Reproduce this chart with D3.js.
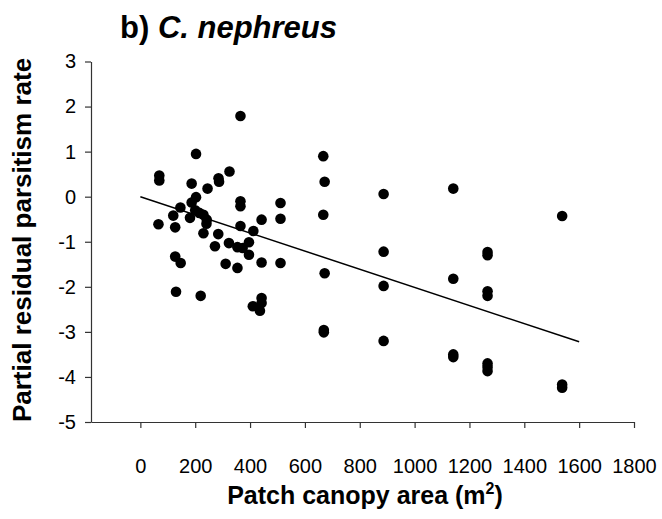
<!DOCTYPE html>
<html>
<head>
<meta charset="utf-8">
<script src="https://cdn.jsdelivr.net/npm/d3@7"></script>
<style>
body { margin: 0; background: #fff; }
svg { font-family: "Liberation Sans", Arial, sans-serif; }
</style>
</head>
<body>
<div id="chart"></div>
<script>
// patch canopy area (m2) and partial residual parasitism rate
const areaX = [69, 69, 66, 203, 365, 187, 245, 285, 287, 325,
    203, 187, 146, 120, 127, 200, 215, 181, 230, 242, 241,
    230, 284, 272, 323, 354, 373, 396, 412, 442,
    365, 365, 365, 396, 311, 354, 127, 147, 130, 220,
    442, 511, 511, 511, 442, 442, 436, 410,
    667, 672, 667, 672, 669, 669,
    887, 887, 887, 887,
    1141, 1141, 1141, 1141,
    1266, 1266, 1266, 1266, 1266, 1266, 1266,
    1538, 1538, 1538];
const residY = [0.47, 0.36, -0.61, 0.95, 1.79, 0.29, 0.18, 0.41, 0.33, 0.56,
    -0.01, -0.13, -0.24, -0.42, -0.68, -0.30, -0.36, -0.47, -0.40, -0.51, -0.60,
    -0.81, -0.83, -1.10, -1.03, -1.12, -1.14, -1.01, -0.76, -0.51,
    -0.10, -0.21, -0.65, -1.29, -1.49, -1.58, -1.33, -1.47, -2.11, -2.20,
    -1.46, -0.14, -0.49, -1.47, -2.25, -2.36, -2.53, -2.43,
    0.90, 0.33, -0.40, -1.70, -2.96, -3.01,
    0.06, -1.22, -1.98, -3.20,
    0.18, -1.82, -3.50, -3.56,
    -1.23, -1.30, -2.10, -2.20, -3.70, -3.78, -3.87,
    -0.43, -4.17, -4.24];

// fitted line end points
const fitX = [0, 1600];
const fitY = [0, -3.22];

const xTicks = [0, 200, 400, 600, 800, 1000, 1200, 1400, 1600, 1800];
const yTicks = [-5, -4, -3, -2, -1, 0, 1, 2, 3];

const W = 662, H = 519;
const plotL = 91, plotR = 634, plotT = 61.5, plotB = 422;

const svg = d3.select("#chart").append("svg")
    .attr("width", W)
    .attr("height", H);

const x = d3.scaleLinear().domain([-180, 1800]).range([plotL, plotR]);
const y = d3.scaleLinear().domain([-5, 3]).range([plotB, plotT]);

// axes
const xAxis = svg.append("g")
    .attr("transform", `translate(0,${plotB})`)
    .call(d3.axisBottom(x).tickValues(xTicks).tickFormat(d => String(d))
        .tickSize(6).tickSizeOuter(0).tickPadding(31));
const yAxis = svg.append("g")
    .attr("transform", `translate(${plotL},0)`)
    .call(d3.axisLeft(y).tickValues(yTicks).tickFormat(d => String(d))
        .tickSize(6).tickSizeOuter(0).tickPadding(9));

[xAxis, yAxis].forEach(function(g) {
    g.selectAll("path, line").attr("stroke", "#333").attr("stroke-width", 1.2);
    g.selectAll("text").attr("fill", "#000").style("font-size", "20px")
        .style("font-family", "'Liberation Sans', Arial, sans-serif");
});

// points
const pts = areaX.map((d, i) => ({ a: d, r: residY[i] }));
svg.append("g").selectAll("circle")
    .data(pts)
    .join("circle")
    .attr("cx", d => x(d.a))
    .attr("cy", d => y(d.r))
    .attr("r", 5.3)
    .attr("fill", "#000");

// regression line
svg.append("path")
    .datum(fitX.map((d, i) => [d, fitY[i]]))
    .attr("fill", "none")
    .attr("stroke", "#000")
    .attr("stroke-width", 1.5)
    .attr("d", d3.line().x(d => x(d[0])).y(d => y(d[1])));

// title
const title = svg.append("text")
    .attr("x", 120)
    .attr("y", 38)
    .style("font-size", "31px")
    .style("font-weight", "bold");
title.append("tspan").text("b) ");
title.append("tspan").style("font-style", "italic").text("C. nephreus");

// axis titles
svg.append("text")
    .attr("transform", "rotate(-90)")
    .attr("x", -240)
    .attr("y", 31)
    .attr("text-anchor", "middle")
    .style("font-size", "26px")
    .style("font-weight", "bold")
    .text("Partial residual parsitism rate");

const xt = svg.append("text")
    .attr("x", 365)
    .attr("y", 504)
    .attr("text-anchor", "middle")
    .style("font-size", "25px")
    .style("font-weight", "bold");
xt.append("tspan").text("Patch canopy area (m");
xt.append("tspan").attr("dy", -10).style("font-size", "16px").text("2");
xt.append("tspan").attr("dy", 10).text(")");
</script>
</body>
</html>
